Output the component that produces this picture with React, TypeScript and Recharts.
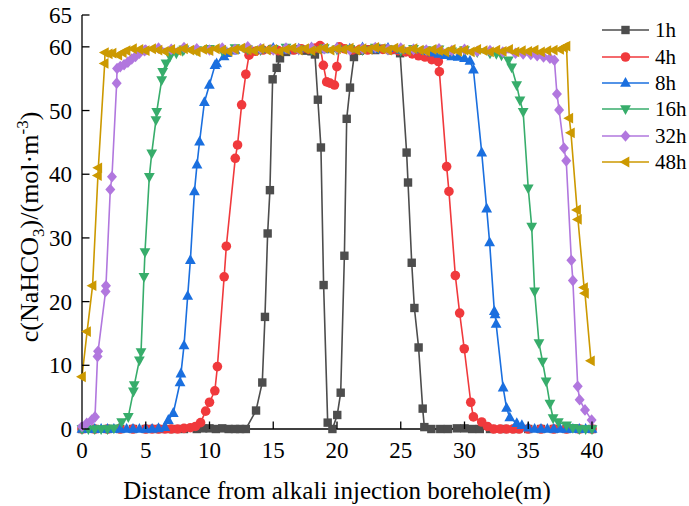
import { LineChart, Line, XAxis, YAxis, Legend } from 'recharts';

type Pt = [number, number];

// distance (m), c(NaHCO3) (mol/m3)
const h1: Pt[] = [
    [0, 0], [1, 0], [2, 0], [3, 0], [4, 0], [5, 0], [6, 0], [7, 0], [8, 0], [9, 0],
    [9.5, 0.1], [10, 0.1], [10.5, 0], [11, 0.1], [11.5, 0], [12, 0], [12.4, 0], [12.85, 0],
    [13.65, 2.9], [14.14, 7.3], [14.35, 17.6], [14.56, 30.7], [14.74, 37.5], [14.95, 54.9],
    [15.27, 56.7], [15.53, 58.2], [16, 59.2], [16.5, 59.5], [17, 59.6], [17.5, 59.4], [18, 59.3],
    [18.27, 58.8], [18.5, 51.7], [18.74, 44.2], [18.95, 22.6], [19.27, 1.0], [19.64, 0],
    [20.02, 2.2], [20.29, 5.7], [20.58, 27.2], [20.76, 48.7], [21.02, 53.6], [21.33, 58.4],
    [21.8, 59.4], [22.4, 59.6], [23, 59.5], [23.6, 59.7], [24.2, 59.5], [24.95, 59.0],
    [25.46, 43.4], [25.57, 38.7], [25.86, 26.1], [26.07, 19.0], [26.4, 12.8], [26.72, 3.2],
    [26.85, 0.3], [27.4, 0], [28.1, 0], [28.7, 0], [29.4, 0.1], [30, 0.1], [30.6, 0], [31.2, 0],
    [32, 0], [33, 0], [34, 0], [35, 0], [36, 0], [37, 0], [38, 0], [39, 0], [40, 0],
];

const h4: Pt[] = [
    [0, 0], [1, 0], [2, 0], [3, 0], [4, 0], [5, 0], [5.5, 0], [6, 0], [6.5, 0], [7, 0],
    [7.5, 0], [8, 0.1], [8.5, 0.2], [8.9, 0.4], [9.3, 1.0], [9.7, 2.8], [10, 4.2], [10.42, 6.0],
    [10.62, 9.8], [11.15, 23.9], [11.32, 28.7], [12.02, 42.5], [12.2, 44.6], [12.52, 50.9],
    [12.85, 55.7], [13.1, 58.7], [13.6, 59.3], [14.2, 59.5], [14.8, 59.6], [15.4, 59.4],
    [16, 59.6], [16.6, 59.5], [17.2, 59.7], [17.8, 59.6], [18.3, 59.8], [18.67, 60.2],
    [18.93, 57.1], [19.19, 54.5], [19.45, 54.3], [19.8, 54.0], [19.99, 56.9], [20.2, 60.0],
    [20.6, 59.7], [21.2, 59.5], [21.8, 59.6], [22.4, 59.5], [23, 59.7], [23.6, 59.6], [24.2, 59.5],
    [24.8, 59.4], [25.4, 59.2], [25.9, 58.9], [26.4, 58.6], [26.9, 58.4], [27.43, 58.0],
    [27.95, 57.7], [28.03, 56.1], [28.6, 41.2], [28.78, 37.3], [29.28, 24.1], [29.62, 18.2],
    [29.98, 12.6], [30.49, 4.2], [30.7, 1.9], [31.35, 1.1], [31.8, 0.4], [32.3, 0], [32.8, 0],
    [33.3, 0], [33.8, 0], [34.3, 0], [35, 0], [36, 0], [37, 0], [38, 0], [39, 0], [40, 0],
];

const h8: Pt[] = [
    [0, 0], [0.5, 0], [1, 0], [1.5, 0], [2, 0], [2.5, 0], [3, 0], [3.5, 0], [4, 0], [4.5, 0],
    [5, 0], [5.5, 0], [6, 0.1], [6.5, 0.3], [6.77, 1.4], [7.16, 2.5], [7.69, 7.3], [7.76, 8.7],
    [8.0, 13.1], [8.29, 20.9], [8.5, 26.5], [8.82, 37.3], [9.02, 41.5], [9.22, 45.1], [9.6, 51.3],
    [9.99, 54.0], [10.43, 57.1], [10.56, 57.4], [11.14, 58.5], [11.35, 59.0], [11.8, 59.4],
    [12, 59.5], [13, 59.7], [14, 59.6], [15, 59.8], [16, 59.5], [17, 59.7], [18, 59.9], [19, 59.6],
    [20, 59.8], [21, 59.7], [22, 59.9], [23, 59.6], [24, 59.8], [25, 59.5], [26, 59.6], [27, 59.3],
    [27.5, 59.1], [28, 58.9], [28.5, 58.7], [29, 58.5], [29.5, 58.4], [30, 58.2], [30.43, 57.8],
    [30.7, 56.4], [31.35, 43.4], [31.74, 34.6], [31.97, 29.3], [32.34, 18.5], [32.4, 18.0],
    [32.48, 16.5], [33.03, 6.5], [33.3, 3.3], [33.55, 1.8], [34.1, 0.9], [34.5, 0.6], [35, 0.2],
    [35.5, 0], [36, 0], [36.5, 0], [37, 0], [37.5, 0], [38, 0], [38.5, 0], [39, 0], [39.5, 0], [40, 0],
];

const h16: Pt[] = [
    [0, 0], [0.5, 0], [1, 0], [1.5, 0], [2, 0], [2.5, 0.1], [3.11, 1.1], [3.63, 1.9], [4.03, 5.9],
    [4.1, 6.9], [4.5, 10.8], [4.63, 12.1], [4.86, 23.9], [4.94, 27.8], [5.28, 39.6], [5.47, 43.3],
    [5.8, 48.5], [5.86, 49.8], [6.25, 54.8], [6.33, 56.1], [6.59, 57.4], [6.9, 58.5], [7.4, 59.0],
    [7.9, 59.4], [8, 59.6], [9, 59.5], [10, 59.7], [11, 59.4], [12, 59.8], [13, 59.6], [14, 59.5],
    [15, 59.7], [16, 59.9], [17, 59.6], [18, 59.5], [19, 59.8], [20, 59.6], [21, 59.7], [22, 59.5],
    [23, 59.9], [24, 59.6], [25, 59.4], [26, 59.7], [27, 59.5], [28, 59.6], [29, 59.3], [30, 59.5],
    [31, 59.2], [32, 59.0], [32.5, 58.9], [32.9, 58.7], [33.44, 57.9], [33.7, 56.8], [34.09, 54.0],
    [34.35, 51.6], [34.6, 49.8], [35.0, 37.8], [35.27, 31.8], [35.5, 21.6], [35.84, 13.5],
    [36.12, 10.6], [36.4, 7.5], [36.7, 4.0], [36.95, 1.7], [37.36, 1.1], [38, 0.6], [38.5, 0.2],
    [39, 0], [39.5, 0], [40, 0],
];

const h32: Pt[] = [
    [0, 0.4], [0.37, 0.9], [0.76, 1.4], [1.02, 1.9], [1.22, 11.4], [1.26, 12.2], [1.85, 21.6],
    [1.88, 22.5], [2.22, 37.6], [2.35, 39.6], [2.72, 54.3], [2.75, 56.6], [3.0, 56.9], [3.3, 57.2],
    [3.6, 57.6], [3.9, 58.1], [4.2, 58.5], [4.5, 59.0], [4.9, 59.4], [5, 59.5], [6, 59.8], [7, 59.6],
    [8, 59.9], [9, 59.7], [10, 59.5], [11, 59.8], [12, 59.6], [13, 60.0], [14, 59.7], [15, 59.5],
    [16, 59.8], [17, 59.6], [18, 59.9], [19, 59.7], [20, 59.8], [21, 59.5], [22, 59.7], [23, 59.9],
    [24, 59.6], [25, 59.8], [26, 59.6], [27, 59.5], [28, 59.7], [29, 59.4], [30, 59.6], [31, 59.3],
    [32, 59.4], [33, 59.2], [34, 59.0], [34.6, 58.9], [35.2, 58.8], [35.7, 58.6], [36.2, 58.4],
    [36.7, 58.2], [37.05, 57.9], [37.25, 52.6], [37.42, 50.1], [37.8, 44.1], [37.98, 42.1],
    [38.38, 26.5], [38.5, 23.3], [38.88, 6.7], [39.03, 4.6], [39.45, 3.0], [39.97, 1.4],
];

const h48: Pt[] = [
    [0, 8.2], [0.4, 15.3], [0.83, 22.5], [1.25, 39.8], [1.28, 41.0], [1.78, 57.4], [1.8, 59.1],
    [2.1, 58.9], [2.4, 59.0], [2.85, 58.7], [3.2, 59.1], [3.5, 59.4], [4, 59.7], [4.5, 59.6],
    [5, 59.4], [5.5, 59.7], [6, 59.5], [6.5, 59.3], [7, 59.6], [7.5, 59.4], [8, 59.7], [8.5, 59.5],
    [9, 59.2], [9.5, 59.6], [10, 59.4], [10.5, 59.7], [11, 59.5], [11.5, 59.3], [12, 59.6],
    [12.5, 59.8], [13, 59.5], [13.5, 59.4], [14, 59.7], [14.5, 59.5], [15, 59.6], [15.5, 59.3],
    [16, 59.6], [16.5, 59.8], [17, 59.5], [17.5, 59.7], [18, 59.4], [18.5, 59.6], [19, 59.8],
    [19.5, 59.5], [20, 59.7], [20.5, 59.6], [21, 59.8], [21.5, 59.5], [22, 59.7], [22.5, 59.6],
    [23, 59.9], [23.5, 59.7], [24, 59.5], [24.5, 59.8], [25, 59.6], [25.5, 59.4], [26, 59.7],
    [26.5, 59.5], [27, 59.3], [27.5, 59.6], [28, 59.4], [28.5, 59.2], [29, 59.6], [29.5, 59.3],
    [30, 59.5], [30.5, 59.2], [31, 59.6], [31.5, 59.4], [32, 59.2], [32.5, 59.5], [33, 59.3],
    [33.5, 59.6], [34, 59.2], [34.5, 59.4], [35, 59.3], [35.5, 59.5], [36, 59.2], [36.5, 59.4],
    [37, 59.5], [37.5, 59.6], [37.8, 59.9], [38, 60.1], [38.22, 48.8], [38.35, 46.5],
    [38.83, 34.4], [38.9, 32.9], [39.38, 22.2], [39.45, 21.3], [39.92, 10.7],
];

const xTicks = [0, 5, 10, 15, 20, 25, 30, 35, 40];
const yTicks = [0, 10, 20, 30, 40, 50, 60, 65];

const SERIES = [
    { name: '1h', points: h1, color: '#4d4d4d', shape: 'square' },
    { name: '4h', points: h4, color: '#f0393c', shape: 'circle' },
    { name: '8h', points: h8, color: '#1a6fdf', shape: 'up' },
    { name: '16h', points: h16, color: '#37ad6b', shape: 'down' },
    { name: '32h', points: h32, color: '#b177de', shape: 'diamond' },
    { name: '48h', points: h48, color: '#cc9900', shape: 'left' },
];

const FONT = "'Liberation Serif', 'Times New Roman', serif";

const Marker = ({ cx, cy, shape, color }: any) => {
    if (cx == null || cy == null) return null;
    switch (shape) {
        case 'square':
            return <rect x={cx - 4.2} y={cy - 4.2} width={8.4} height={8.4} fill={color} />;
        case 'circle':
            return <circle cx={cx} cy={cy} r={4.8} fill={color} />;
        case 'up':
            return <polygon points={`${cx},${cy - 6} ${cx + 5.4},${cy + 3.8} ${cx - 5.4},${cy + 3.8}`} fill={color} />;
        case 'down':
            return <polygon points={`${cx},${cy + 6} ${cx + 5.4},${cy - 3.8} ${cx - 5.4},${cy - 3.8}`} fill={color} />;
        case 'diamond':
            return <polygon points={`${cx},${cy - 5.8} ${cx + 5},${cy} ${cx},${cy + 5.8} ${cx - 5},${cy}`} fill={color} />;
        default:
            return <polygon points={`${cx - 6},${cy} ${cx + 3.8},${cy - 5.4} ${cx + 3.8},${cy + 5.4}`} fill={color} />;
    }
};

const XTick = ({ x, y, payload }: any) => (
    <g>
        <line x1={x} y1={y} x2={x} y2={y - 7.5} stroke="#000" strokeWidth={1.3} />
        <text x={x} y={y + 29} textAnchor="middle" fontSize={23} fontFamily={FONT} fill="#000">
            {payload.value}
        </text>
    </g>
);

const YTick = ({ x, y, payload }: any) => (
    <g>
        <line x1={x} y1={y} x2={x + 7.5} y2={y} stroke="#000" strokeWidth={1.3} />
        <text x={x - 10} y={y + 8} textAnchor="end" fontSize={23} fontFamily={FONT} fill="#000">
            {payload.value}
        </text>
    </g>
);

const XTitle = () => (
    <text x={337} y={499} textAnchor="middle" fontSize={25} fontFamily={FONT} fill="#000">
        Distance from alkali injection borehole(m)
    </text>
);

const YTitle = () => (
    <text transform="translate(38,227) rotate(-90)" textAnchor="middle" fontSize={26} fontFamily={FONT} fill="#000">
        c(NaHCO<tspan dy={6} fontSize={17}>3</tspan>
        <tspan dy={-6}>)/(mol·m</tspan>
        <tspan dy={-10} fontSize={17}>-3</tspan>
        <tspan dy={10}>)</tspan>
    </text>
);

const LegendBox = () => (
    <div style={{ fontFamily: FONT, fontSize: 21, color: '#000' }}>
        {SERIES.map((s) => (
            <div key={s.name} style={{ display: 'flex', alignItems: 'center', height: 26.4 }}>
                <svg width={50} height={20}>
                    <line x1={1} y1={10} x2={48} y2={10} stroke={s.color} strokeWidth={1.6} />
                    <Marker cx={24.5} cy={10} shape={s.shape} color={s.color} />
                </svg>
                <span style={{ marginLeft: 4, lineHeight: '20px' }}>{s.name}</span>
            </div>
        ))}
    </div>
);

const App = () => {
    return (
        <div style={{ position: 'absolute', left: 0, top: 0, width: 689, height: 506, background: '#fff' }}>
            <LineChart width={689} height={506} margin={{ top: 15, right: 97, left: 0, bottom: 0 }}>
                <XAxis
                    type="number"
                    dataKey="x"
                    domain={[0, 40]}
                    ticks={xTicks}
                    interval={0}
                    height={77}
                    tickSize={0}
                    tickMargin={0}
                    tick={<XTick />}
                    axisLine={{ stroke: '#000', strokeWidth: 1.3 }}
                    label={<XTitle />}
                />
                <YAxis
                    type="number"
                    domain={[0, 65]}
                    ticks={yTicks}
                    interval={0}
                    width={82}
                    tickSize={0}
                    tickMargin={0}
                    tick={<YTick />}
                    axisLine={{ stroke: '#000', strokeWidth: 1.3 }}
                    label={<YTitle />}
                />
                <Legend
                    layout="horizontal"
                    verticalAlign="middle"
                    align="center"
                    content={<LegendBox />}
                    wrapperStyle={{ position: 'absolute', left: 601, top: 17, width: 88, height: 160 }}
                />
                {SERIES.map((s) => (
                    <Line
                        key={s.name}
                        name={s.name}
                        data={s.points.map(([x, y]) => ({ x, y }))}
                        dataKey="y"
                        type="linear"
                        stroke={s.color}
                        strokeWidth={1.6}
                        dot={(p: any) => (
                            <Marker key={`${s.name}-${p.index}`} cx={p.cx} cy={p.cy} shape={s.shape} color={s.color} />
                        )}
                        activeDot={false}
                        legendType="none"
                        isAnimationActive={false}
                    />
                ))}
            </LineChart>
        </div>
    );
};

export default App;
